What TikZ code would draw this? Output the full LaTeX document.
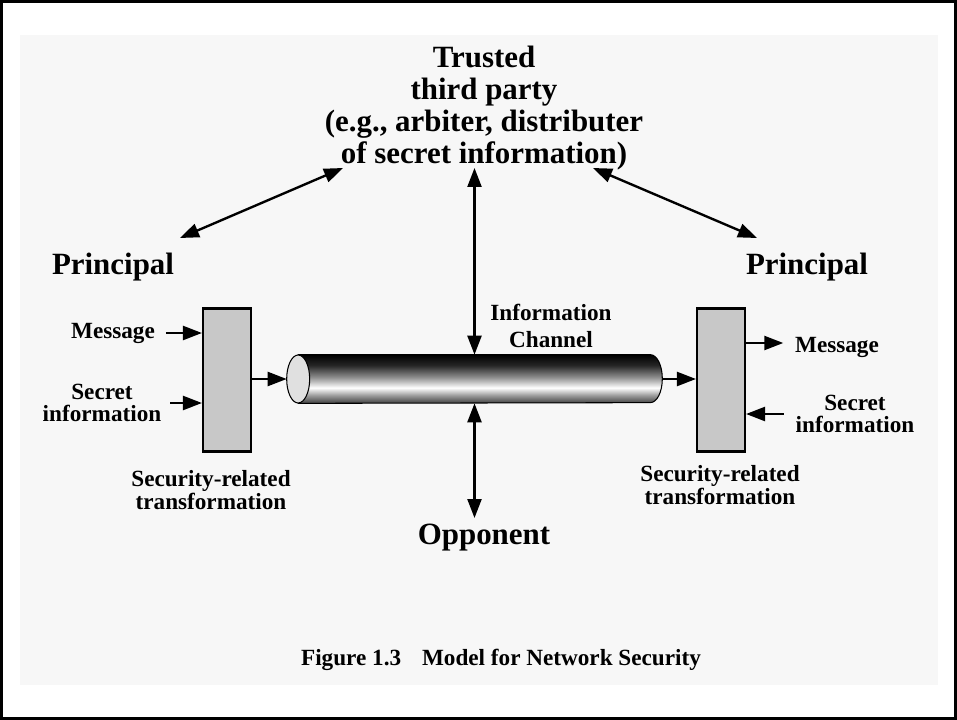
\documentclass[tikz,border=0pt]{standalone}
\usepackage{fontspec}
\setmainfont{Liberation Serif}
\usepackage{tikz}
\usetikzlibrary{arrows.meta}
\definecolor{panelgray}{RGB}{247,247,247}
\definecolor{boxgray}{RGB}{200,200,200}
\definecolor{capgray}{RGB}{224,224,224}
\pgfdeclareverticalshading{tubeshade}{100bp}{color(0bp)=(black!75); color(25bp)=(black!75); color(33bp)=(black!40); color(41bp)=(white); color(52bp)=(black!45); color(64bp)=(black!85); color(75bp)=(black); color(100bp)=(black)}

\begin{document}
\begin{tikzpicture}[x=0.02cm, y=-0.02cm,
    big/.style={font=\fontsize{17.6}{18.2}\selectfont\bfseries, align=center},
    lbl/.style={font=\fontsize{13.2}{12.6}\selectfont\bfseries, align=center, inner sep=2pt},
    tbox/.style={draw, fill=boxgray, line width=1.2pt, minimum width=0.96cm, minimum height=2.86cm, inner sep=0},
    arr/.style={line width=1.35pt, -{Triangle[length=0.38cm, width=0.28cm]}},
    dbl/.style={line width=1.35pt, {Triangle[length=0.38cm, width=0.28cm]}-{Triangle[length=0.38cm, width=0.28cm]}}]
    \useasboundingbox (0,0) rectangle (957,720);
    % Frame and panel
    \fill[white] (0,0) rectangle (957,720);
    \fill[panelgray] (20,35) rectangle (938,685);
    \draw[line width=0.05cm] (1.5,1.5) rectangle (955.5,718.5);

    % Parties
    \node[big] (ttp) at (484,108) {Trusted\\third party\\(e.g., arbiter, distributer\\of secret information)};
    \node[big] (ppl) at (113,267) {Principal};
    \node[big] (ppr) at (807,267) {Principal};
    \node[big] (opp) at (484,538) {Opponent};

    % Information channel (tube)
    \node[minimum width=7.5cm, minimum height=0.96cm, inner sep=0] (tube) at (474.5,379) {};
    \shadedraw[shading=tubeshade, line width=0.6pt] ([xshift=0.23cm]tube.north west) -- ([xshift=-0.24cm]tube.north east)
        arc[start angle=90, end angle=-90, x radius=0.24cm, y radius=0.48cm] -- ([xshift=0.23cm]tube.south west) -- cycle;
    \filldraw[fill=capgray, line width=0.6pt] ([xshift=0.23cm]tube.west) ellipse[x radius=0.23cm, y radius=0.48cm];
    \node[font=\fontsize{13.2}{15.5}\selectfont\bfseries, align=center] (chan) at (551,326) {Information\\Channel};

    % Transformation boxes
    \node[tbox] (lbox) at (227,380) {};
    \node[tbox] (rbox) at (721,380) {};
    \node[lbl] (srtl) at (211,490) {Security-related\\transformation};
    \node[lbl] (srtr) at (720,485) {Security-related\\transformation};

    % Inputs and outputs
    \node[lbl, inner sep=6pt] (msgl) at (113,333) {Message};
    \node[lbl, inner sep=5pt] (secl) at (102,403) {Secret\\information};
    \node[lbl] (msgr) at (837,347) {Message};
    \node[lbl] (secr) at (855,414) {Secret\\information};
    \draw[arr] (msgl.east) -- (msgl.east -| lbox.west);
    \draw[arr] (secl.east) -- (secl.east -| lbox.west);
    \draw[arr, shorten >=0.16cm] (rbox.east |- 0,343) -- (msgr.west |- 0,343);
    \draw[arr, shorten <=0.16cm] (secr.west) -- (secr.west -| rbox.east);
    \draw[arr] (lbox.east |- tube.west) -- (tube.west);
    \draw[arr] (tube.east) -- (tube.east -| rbox.west);

    % Links to trusted party and opponent
    \coordinate (tl) at (343,168);
    \coordinate (pl) at (180,238);
    \coordinate (tr) at (593,168);
    \coordinate (pr) at (757,238);
    \draw[dbl] (tl) -- (pl);
    \draw[dbl] (tr) -- (pr);
    \draw[dbl] (tube.north |- tl) -- (tube.north);
    \draw[dbl] (tube.south) -- (tube.south |- 0,518);

    % Caption
    \node[font=\fontsize{13.2}{14}\selectfont\bfseries] (cap) at (501,660) {Figure 1.3\hspace{0.9em}Model for Network Security};
\end{tikzpicture}
\end{document}
